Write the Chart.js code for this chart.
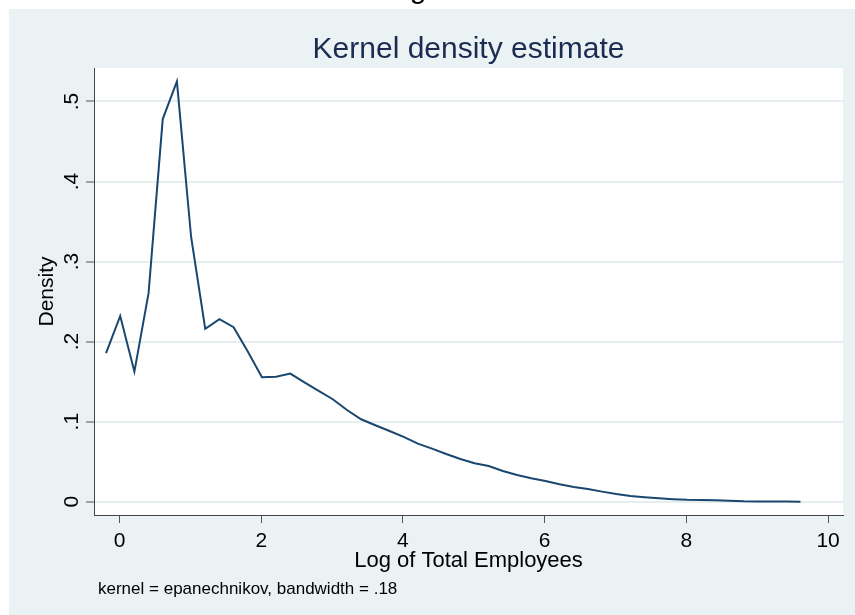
<!DOCTYPE html>
<html>
<head>
<meta charset="utf-8">
<script src="https://cdn.jsdelivr.net/npm/chart.js@4.4.1/dist/chart.umd.min.js"></script>
<style>
  html, body { margin: 0; padding: 0; background: #ffffff; }
  canvas { display: block; }
</style>
</head>
<body>
<canvas id="kdensChart" width="855" height="615"></canvas>
<script>
// evaluation points of the kernel density (log of total employees)
const xPoints = [-0.19, 0.01, 0.21, 0.41, 0.61, 0.81, 1.01, 1.21, 1.41, 1.61,
                 1.81, 2.01, 2.21, 2.41, 2.61, 2.81, 3.01, 3.21, 3.41, 3.61,
                 3.81, 4.01, 4.21, 4.41, 4.61, 4.81, 5.01, 5.21, 5.41, 5.61,
                 5.81, 6.01, 6.21, 6.41, 6.61, 6.81, 7.01, 7.21, 7.41, 7.61,
                 7.81, 8.01, 8.21, 8.41, 8.61, 8.81, 9.01, 9.21, 9.41, 9.61];
// density values
const density = [0.1855, 0.232, 0.1625, 0.2605, 0.478, 0.525, 0.331, 0.216, 0.228, 0.218,
                 0.1875, 0.1555, 0.156, 0.160, 0.149, 0.1384, 0.128, 0.1146, 0.103, 0.0955,
                 0.0884, 0.081, 0.0725, 0.0663, 0.0596, 0.0534, 0.048, 0.0446, 0.0384, 0.0334,
                 0.0292, 0.0259, 0.0217, 0.0184, 0.016, 0.0126, 0.0096, 0.0071, 0.0055, 0.0042,
                 0.0032, 0.0025, 0.0022, 0.0018, 0.0012, 0.0005, 0.0004, 0.0003, 0.0002, 0.0001];

const xTicks = [0, 2, 4, 6, 8, 10];
const xTickLabels = ['0', '2', '4', '6', '8', '10'];
const yTicks = [0, 0.1, 0.2, 0.3, 0.4, 0.5];
const yTickLabels = ['0', '.1', '.2', '.3', '.4', '.5'];

const FONT = '"Liberation Sans", Arial, sans-serif';

// backgrounds: white page, light blue-grey graph region, white plot region
const backgroundPlugin = {
    id: 'stataBackground',
    beforeDraw(chart) {
        const ctx = chart.ctx;
        const a = chart.chartArea;
        ctx.save();
        ctx.fillStyle = '#ffffff';
        ctx.fillRect(0, 0, chart.width, chart.height);
        ctx.fillStyle = '#eaf2f3';
        ctx.fillRect(9, 9, chart.width - 9, chart.height - 9);
        ctx.fillStyle = '#ffffff';
        ctx.fillRect(a.left, a.top, a.right - a.left, a.bottom - a.top);
        ctx.restore();
    }
};

// all the texts: title, axis titles, tick labels and the note
const textPlugin = {
    id: 'stataTexts',
    afterDraw(chart) {
        const ctx = chart.ctx;
        const a = chart.chartArea;
        const xs = chart.scales.x;
        const ys = chart.scales.y;
        const midX = (a.left + a.right) / 2;
        const midY = (a.top + a.bottom) / 2;
        ctx.save();

        // cut-off caption above the graph
        ctx.fillStyle = '#000000';
        ctx.font = '30px ' + FONT;
        ctx.textAlign = 'center';
        ctx.textBaseline = 'alphabetic';
        ctx.fillText('g', 418, -2);

        // title
        ctx.fillStyle = '#1c2b52';
        ctx.font = '30px ' + FONT;
        ctx.fillText('Kernel density estimate', midX, 58);

        // x tick labels
        ctx.fillStyle = '#000000';
        ctx.font = '21px ' + FONT;
        xTicks.forEach((v, i) => {
            ctx.fillText(xTickLabels[i], xs.getPixelForValue(v), 547);
        });

        // x axis title
        ctx.font = '22px ' + FONT;
        ctx.fillText('Log of Total Employees', midX, 567);

        // y tick labels, rotated
        ctx.font = '21px ' + FONT;
        yTicks.forEach((v, i) => {
            ctx.save();
            ctx.translate(78, ys.getPixelForValue(v));
            ctx.rotate(-Math.PI / 2);
            ctx.fillText(yTickLabels[i], 0, 0);
            ctx.restore();
        });

        // y axis title
        ctx.save();
        ctx.translate(53, midY);
        ctx.rotate(-Math.PI / 2);
        ctx.fillText('Density', 0, 0);
        ctx.restore();

        // note
        ctx.font = '17px ' + FONT;
        ctx.textAlign = 'left';
        ctx.fillText('kernel = epanechnikov, bandwidth = .18', 98, 594);

        ctx.restore();
    }
};

const chart1 = document.getElementById('kdensChart');

new Chart(chart1, {
    type: 'line',
    data: {
        datasets: [{
            label: 'Density',
            data: xPoints.map((x, i) => ({ x: x, y: density[i] })),
            borderColor: '#1a476f',
            borderWidth: 2,
            pointRadius: 0,
            tension: 0,
            fill: false
        }]
    },
    options: {
        responsive: false,
        animation: false,
        devicePixelRatio: 1,
        layout: { padding: { top: 68, right: 12, left: 0, bottom: 0 } },
        plugins: {
            legend: { display: false },
            title: { display: false },
            tooltip: { enabled: false }
        },
        scales: {
            x: {
                type: 'linear',
                min: -0.36,
                max: 10.21,
                afterBuildTicks: (s) => { s.ticks = xTicks.map(v => ({ value: v })); },
                afterFit: (s) => { s.height = 100; },
                ticks: { display: false },
                grid: {
                    drawOnChartArea: false,
                    drawTicks: true,
                    tickLength: 8,
                    tickColor: '#555555',
                    tickWidth: 1,
                    color: '#555555'
                },
                border: { display: true, color: '#444444', width: 1 }
            },
            y: {
                type: 'linear',
                min: -0.0166,
                max: 0.5418,
                afterBuildTicks: (s) => { s.ticks = yTicks.map(v => ({ value: v })); },
                afterFit: (s) => { s.width = 94; },
                ticks: { display: false },
                grid: {
                    color: '#e6eef0',
                    lineWidth: 2,
                    drawTicks: true,
                    tickLength: 8,
                    tickColor: '#555555',
                    tickWidth: 1
                },
                border: { display: true, color: '#444444', width: 1 }
            }
        }
    },
    plugins: [backgroundPlugin, textPlugin]
});
</script>
</body>
</html>
